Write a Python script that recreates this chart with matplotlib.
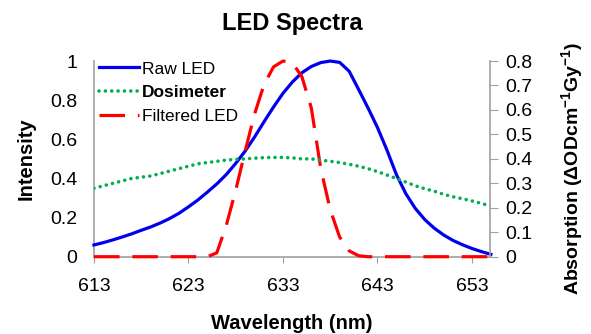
import matplotlib.pyplot as plt

plt.rcParams['font.family'] = ['Liberation Sans', 'DejaVu Sans']
plt.rcParams['mathtext.fontset'] = 'custom'
plt.rcParams['mathtext.rm'] = 'Liberation Sans:bold'
plt.rcParams['mathtext.default'] = 'rm'

wavelength = list(range(613, 656))

raw_led = [0.060, 0.072, 0.086, 0.101, 0.117, 0.135, 0.152, 0.172, 0.195, 0.222,
           0.255, 0.290, 0.330, 0.372, 0.420, 0.477, 0.540, 0.612, 0.690, 0.765,
           0.835, 0.893, 0.940, 0.972, 0.992, 1.000, 0.993, 0.948, 0.855, 0.760,
           0.660, 0.545, 0.420, 0.322, 0.247, 0.190, 0.146, 0.111, 0.083, 0.061,
           0.042, 0.026, 0.012]

filtered_led = [0, 0, 0, 0, 0, 0, 0, 0, 0, 0,
                0, 0, 0, 0.02, 0.16, 0.34, 0.54, 0.73, 0.88, 0.97,
                1.0, 0.99, 0.92, 0.76, 0.45, 0.24, 0.10, 0.03, 0.005, 0,
                0, 0, 0, 0, 0, 0, 0, 0, 0, 0,
                0, 0, 0]

dosimeter = [0.28, 0.29, 0.30, 0.31, 0.32, 0.325, 0.33, 0.34, 0.35, 0.36,
             0.37, 0.38, 0.385, 0.39, 0.395, 0.398, 0.40, 0.403, 0.405, 0.406,
             0.406, 0.404, 0.40, 0.40, 0.395, 0.39, 0.385, 0.378, 0.37, 0.36,
             0.348, 0.334, 0.32, 0.305, 0.29, 0.278, 0.268, 0.255, 0.245, 0.237,
             0.228, 0.218, 0.207]

x_ticks = [613, 623, 633, 643, 653]
left_ticks = [0, 0.2, 0.4, 0.6, 0.8, 1]
right_ticks = [0, 0.1, 0.2, 0.3, 0.4, 0.5, 0.6, 0.7, 0.8]

fig = plt.figure(figsize=(5.91, 3.34), dpi=100)
ax = fig.add_axes([0.159, 0.2314, 0.67, 0.5859])
ax2 = ax.twinx()

l1, = ax.plot(wavelength, raw_led, color='#0000ee', lw=2.3, label='Raw LED',
              clip_on=False, zorder=3)
l3, = ax.plot(wavelength, filtered_led, color='#ff0000', lw=2.3,
              dashes=(8, 4), label='Filtered LED', clip_on=False, zorder=4)
l2, = ax2.plot(wavelength, dosimeter, color='#00b050', lw=2.6,
               dashes=(0.01, 1.75), dash_capstyle='round', label='Dosimeter')

ax.set_xlim(613, 654.9)
ax.set_ylim(0, 1)
ax2.set_ylim(0, 0.8)

ax.set_xticks(x_ticks)
ax.set_xticklabels([str(v) for v in x_ticks])
ax.set_yticks(left_ticks)
ax.set_yticklabels(['0', '0.2', '0.4', '0.6', '0.8', '1'])
ax2.set_yticks(right_ticks)
ax2.set_yticklabels(['0', '0.1', '0.2', '0.3', '0.4', '0.5', '0.6', '0.7', '0.8'])

# spines: gray, no top; the twin only keeps its right one
for s in ('left', 'right', 'bottom'):
    ax.spines[s].set_color('#a0a0a0')
    ax.spines[s].set_linewidth(1.2)
ax.spines['top'].set_visible(False)
ax.spines['right'].set_visible(False)
for s in ('left', 'top', 'bottom'):
    ax2.spines[s].set_visible(False)
ax2.spines['right'].set_color('#a0a0a0')
ax2.spines['right'].set_linewidth(1.2)

ax.tick_params(axis='y', length=0, pad=12, labelsize=14)
ax.tick_params(axis='x', direction='out', length=4, color='#a0a0a0', pad=11, labelsize=14)
ax2.tick_params(axis='y', direction='out', length=6, color='#a0a0a0', pad=5, labelsize=14)

ax.set_xlabel('Wavelength (nm)', fontsize=14.5, fontweight='bold')
ax.xaxis.set_label_coords(0.5, -0.295)
ax.set_ylabel('Intensity', fontsize=14.5, fontweight='bold', va='center')
ax.yaxis.set_label_coords(-0.172, 0.5)
ax2.set_ylabel('Absorption (\u0394ODcm$^{-1}$Gy$^{-1}$)', fontsize=14,
               fontweight='bold', va='center')
ax2.yaxis.set_label_coords(1.207, 0.45)

ax.text(0.5, 1.19, 'LED Spectra', transform=ax.transAxes, ha='center', va='center',
        fontsize=17, fontweight='bold')

leg = ax.legend([l1, l2, l3], ['Raw LED', 'Dosimeter', 'Filtered LED'],
                loc='upper left', bbox_to_anchor=(0.012, 0.998), frameon=False,
                fontsize=12.5, handlelength=2.3, handletextpad=0.2,
                borderaxespad=0, borderpad=0, labelspacing=0.5)
leg.get_texts()[1].set_fontweight('bold')

plt.savefig('out.png', dpi=100)
